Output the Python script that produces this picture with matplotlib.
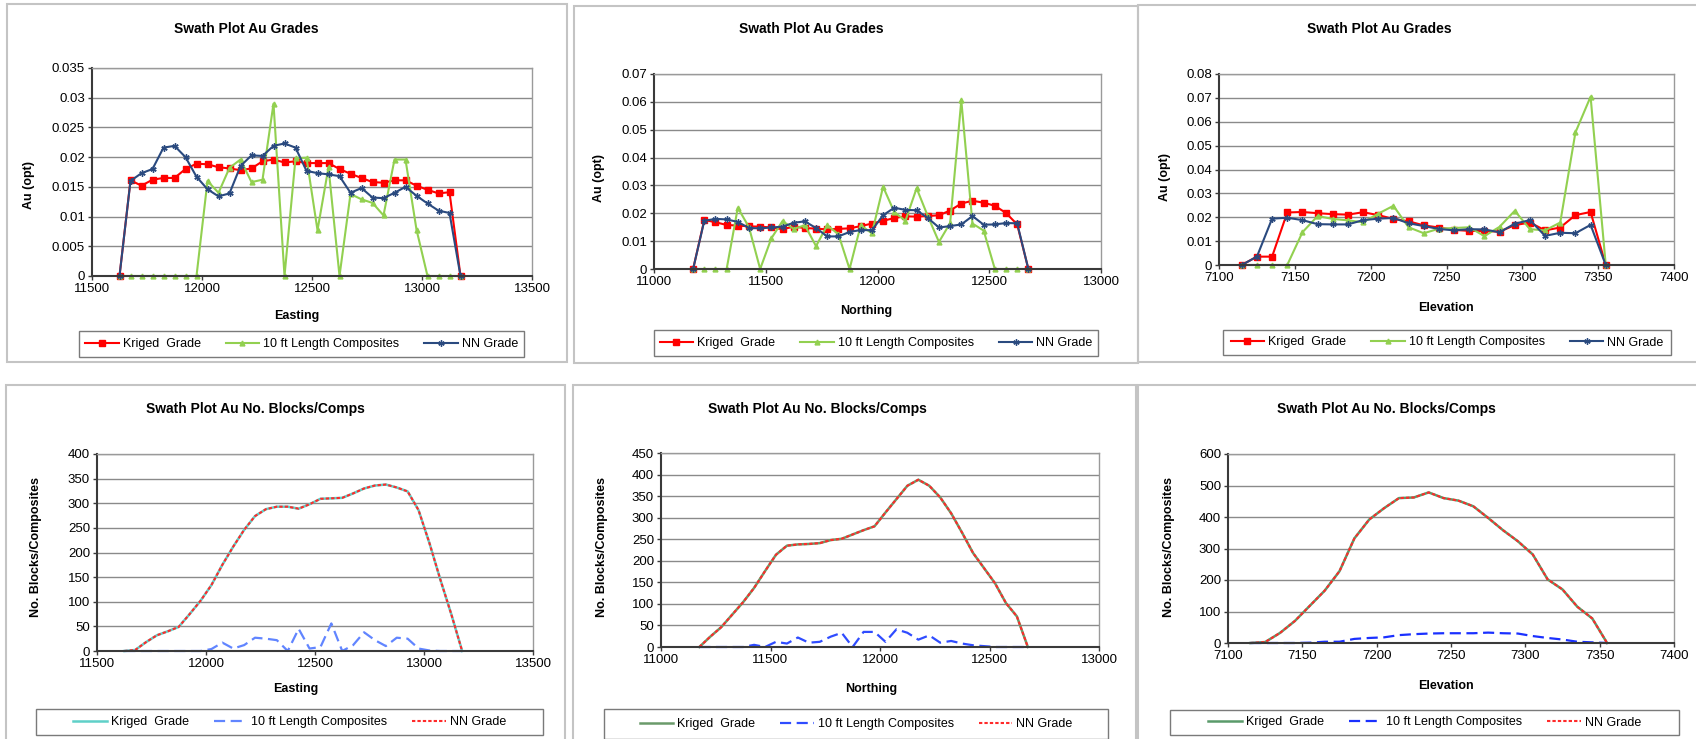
import matplotlib
matplotlib.use("Agg")
import matplotlib.pyplot as plt
from matplotlib.patches import Rectangle
from matplotlib.ticker import FuncFormatter, MultipleLocator

plt.rcParams['font.family'] = ['Liberation Sans', 'DejaVu Sans']

# ---------------- data ----------------
easting = [11625, 11675, 11725, 11775, 11825, 11875, 11925, 11975, 12025, 12075, 12125,
           12175, 12225, 12275, 12325, 12375, 12425, 12475, 12525, 12575, 12625, 12675,
           12725, 12775, 12825, 12875, 12925, 12975, 13025, 13075, 13125, 13175]
northing = [11175, 11225, 11275, 11325, 11375, 11425, 11475, 11525, 11575, 11625, 11675,
            11725, 11775, 11825, 11875, 11925, 11975, 12025, 12075, 12125, 12175, 12225,
            12275, 12325, 12375, 12425, 12475, 12525, 12575, 12625, 12675]
elevation = [7115, 7125, 7135, 7145, 7155, 7165, 7175, 7185, 7195, 7205, 7215, 7225, 7235,
             7245, 7255, 7265, 7275, 7285, 7295, 7305, 7315, 7325, 7335, 7345, 7355]

# grades by Easting
krig_e = [0, 0.0161, 0.0152, 0.0162, 0.0165, 0.0165, 0.0180, 0.0189, 0.0188, 0.0183, 0.0181,
          0.0178, 0.0181, 0.0193, 0.0196, 0.0191, 0.0193, 0.0190, 0.0190, 0.0190, 0.0180, 0.0172,
          0.0165, 0.0158, 0.0157, 0.0161, 0.0161, 0.0152, 0.0145, 0.0139, 0.0141, 0]
comp_e = [0, 0, 0, 0, 0, 0, 0, 0, 0.0160, 0.0140, 0.0182, 0.0196, 0.0158, 0.0162, 0.0290, 0,
          0.0198, 0.0199, 0.0077, 0.0183, 0, 0.0138, 0.0129, 0.0123, 0.0102, 0.0196, 0.0196,
          0.0078, 0, 0, 0, 0]
nn_e = [0, 0.0160, 0.0173, 0.0180, 0.0216, 0.0219, 0.0200, 0.0167, 0.0146, 0.0134, 0.0139,
        0.0185, 0.0203, 0.0202, 0.0219, 0.0223, 0.0216, 0.0177, 0.0173, 0.0171, 0.0168, 0.0140,
        0.0148, 0.0132, 0.0131, 0.0140, 0.0150, 0.0135, 0.0122, 0.0110, 0.0106, 0]

# grades by Northing
krig_n = [0, 0.0176, 0.0168, 0.0158, 0.0156, 0.0153, 0.0152, 0.0149, 0.0143, 0.0152, 0.0147,
          0.0145, 0.0142, 0.0144, 0.0146, 0.0154, 0.0163, 0.0173, 0.0183, 0.0189, 0.0188, 0.0190,
          0.0193, 0.0210, 0.0235, 0.0245, 0.0238, 0.0227, 0.0201, 0.0160, 0]
comp_n = [0, 0, 0, 0, 0.0220, 0.0150, 0, 0.0110, 0.0172, 0.0144, 0.0157, 0.0082, 0.0157, 0.0125,
          0, 0.0157, 0.0128, 0.0295, 0.0205, 0.0173, 0.0290, 0.0190, 0.0097, 0.0165, 0.0605,
          0.0163, 0.0138, 0, 0, 0, 0]
nn_n = [0, 0.0173, 0.0180, 0.0178, 0.0169, 0.0147, 0.0146, 0.0149, 0.0152, 0.0166, 0.0171,
        0.0147, 0.0117, 0.0117, 0.0133, 0.0140, 0.0139, 0.0193, 0.0220, 0.0212, 0.0211, 0.0183,
        0.0149, 0.0154, 0.0160, 0.0190, 0.0159, 0.0160, 0.0165, 0.0164, 0]

# grades by Elevation
krig_z = [0, 0.0035, 0.0035, 0.0220, 0.0222, 0.0217, 0.0213, 0.0211, 0.0221, 0.0209, 0.0193,
          0.0183, 0.0166, 0.0157, 0.0147, 0.0143, 0.0142, 0.0140, 0.0167, 0.0178, 0.0145,
          0.0157, 0.0209, 0.0222, 0]
comp_z = [0, 0, 0, 0, 0.0137, 0.0205, 0.0193, 0.0187, 0.0179, 0.0215, 0.0248, 0.0158, 0.0133,
          0.0152, 0.0155, 0.0158, 0.0121, 0.0160, 0.0227, 0.0150, 0.0145, 0.0178, 0.0555,
          0.0705, 0]
nn_z = [0, 0.0035, 0.0194, 0.0198, 0.0188, 0.0171, 0.0170, 0.0170, 0.0188, 0.0194, 0.0197,
        0.0175, 0.0163, 0.0151, 0.0145, 0.0150, 0.0149, 0.0137, 0.0173, 0.0188, 0.0122,
        0.0135, 0.0133, 0.0168, 0]

# counts (kriged blocks = NN blocks)
nblk_e = [0, 2, 18, 32, 40, 49, 75, 102, 134, 175, 212, 246, 274, 288, 293, 293, 289, 298,
          309, 310, 311, 320, 330, 336, 338, 332, 324, 286, 219, 145, 75, 0]
ncomp_e = [0, 0, 0, 0, 0, 0, 0, 0, 4, 17, 5, 12, 27, 25, 22, 0, 45, 5, 8, 56, 0, 12, 38, 22,
           10, 27, 25, 5, 1, 0, 0, 0]
nblk_n = [0, 24, 46, 75, 104, 137, 176, 214, 235, 238, 239, 241, 248, 251, 261, 271, 280, 312,
          343, 374, 388, 374, 347, 310, 265, 218, 183, 148, 102, 71, 0]
ncomp_n = [0, 0, 0, 0, 0, 5, 0, 12, 8, 22, 10, 12, 24, 33, 0, 35, 35, 12, 41, 33, 17, 27, 10,
           14, 8, 4, 2, 0, 0, 0, 0]
nblk_z = [0, 3, 32, 70, 118, 166, 228, 332, 392, 428, 460, 462, 478, 460, 452, 434, 397, 358,
          323, 281, 202, 170, 115, 78, 0]
ncomp_z = [0, 0, 0, 0, 1, 4, 4, 13, 16, 18, 25, 28, 30, 31, 31, 31, 33, 31, 30, 22, 16, 11,
           4, 2, 0]

labels = ["Kriged  Grade", "10 ft Length Composites", "NN Grade"]

# ---------------- figure ----------------
W, H = 1696, 739
fig = plt.figure(figsize=(W / 100, H / 100), dpi=100)


def fx(x):
    return x / W


def fy(y):
    return 1 - y / H


def add_axes(l, r, t, b):
    return fig.add_axes([fx(l), fy(b), fx(r - l), (b - t) / H])


def frame(x0, y0, x1, y1):
    fig.add_artist(Rectangle((fx(x0), fy(y1)), fx(x1 - x0), (y1 - y0) / H,
                             transform=fig.transFigure, fill=False,
                             ec='#c4c4c4', lw=1.5))


def style(ax, xlim, xstep, ylim, ystep, fmt):
    ax.set_xlim(*xlim)
    ax.set_ylim(*ylim)
    ax.xaxis.set_major_locator(MultipleLocator(xstep))
    ax.yaxis.set_major_locator(MultipleLocator(ystep))
    ax.yaxis.set_major_formatter(FuncFormatter(fmt))
    ax.yaxis.grid(True, color='#8a8a8a', lw=1)
    ax.set_axisbelow(True)
    for s in ('top', 'right'):
        ax.spines[s].set_color('#9a9a9a')
        ax.spines[s].set_linewidth(1)
    for s in ('left', 'bottom'):
        ax.spines[s].set_color('#3a3a3a')
        ax.spines[s].set_linewidth(1.5)
    ax.tick_params(direction='out', length=3, width=1, color='#3a3a3a',
                   labelsize=9.5, pad=2)


def texts(title, tx, ty, ylab, ylx, yly, xlab, xlx, xly):
    fig.text(fx(tx), fy(ty), title, ha='center', va='center', fontsize=10,
             fontweight='bold')
    fig.text(fx(ylx), fy(yly), ylab, ha='center', va='center', rotation=90,
             fontsize=9, fontweight='bold')
    fig.text(fx(xlx), fy(xly), xlab, ha='center', va='center', fontsize=9,
             fontweight='bold')


def legend_box(handles, x0, y0, x1, y1):
    fig.add_artist(Rectangle((fx(x0), fy(y1)), fx(x1 - x0), (y1 - y0) / H,
                             transform=fig.transFigure, fill=False,
                             ec='#7a7a7a', lw=1))
    fig.legend(handles, labels, loc='center',
               bbox_to_anchor=(fx((x0 + x1) / 2), fy((y0 + y1) / 2)),
               ncol=3, frameon=False, fontsize=9, handlelength=2.7,
               handletextpad=0.3, columnspacing=2.0, borderpad=0)


grade_fmt = lambda v, p: f"{round(v, 4):g}"
count_fmt = lambda v, p: f"{v:.0f}"

RED = '#ff0000'
GREEN = '#92d050'
NAVY = '#2a4a7f'
star = (6, 2, 0)


def grade_panel(box, axbox, x, krig, comp, nn, xlim, xstep, ylim, ystep,
                title_pos, ylab_pos, xlab, xlab_pos, leg):
    frame(*box)
    ax = add_axes(*axbox)
    style(ax, xlim, xstep, ylim, ystep, grade_fmt)
    h1, = ax.plot(x, krig, color=RED, lw=1.5, marker='s', ms=4.5, mec=RED, mfc=RED)
    h2, = ax.plot(x, comp, color=GREEN, lw=1.5, marker='^', ms=3.5, mec=GREEN, mfc=GREEN)
    h3, = ax.plot(x, nn, color=NAVY, lw=1.5, marker=star, ms=4.5, mec=NAVY, mew=1)
    for h in (h1, h2, h3):
        h.set_clip_on(False)
    texts("Swath Plot Au Grades", *title_pos, "Au (opt)", *ylab_pos, xlab, *xlab_pos)
    legend_box([h1, h2, h3], *leg)


def count_panel(box, axbox, x, blk, comp, kcol, ccol, xlim, xstep, ylim, ystep,
                title_pos, ylab_pos, xlab, xlab_pos, leg):
    frame(*box)
    ax = add_axes(*axbox)
    style(ax, xlim, xstep, ylim, ystep, count_fmt)
    h1, = ax.plot(x, blk, color=kcol, lw=1.8)
    h2, = ax.plot(x, comp, color=ccol, lw=1.6, ls=(0, (5, 2.5)))
    h3, = ax.plot(x, blk, color='#ff2a2a', lw=1.5, ls=(0, (1.6, 1.0)))
    for h in (h1, h2, h3):
        h.set_clip_on(False)
    texts("Swath Plot Au No. Blocks/Comps", *title_pos, "No. Blocks/Composites",
          *ylab_pos, xlab, *xlab_pos)
    legend_box([h1, h2, h3], *leg)


# top row
grade_panel((7, 4, 567, 362), (92, 532, 68, 276), easting, krig_e, comp_e, nn_e,
            (11500, 13500), 500, (0, 0.035), 0.005,
            (246, 29), (29, 185), "Easting", (297, 316), (79, 331, 524, 357))
grade_panel((574, 6, 1138, 363), (654, 1101, 74, 269), northing, krig_n, comp_n, nn_n,
            (11000, 13000), 500, (0, 0.07), 0.01,
            (811, 29), (599, 178), "Northing", (866, 311), (654, 330, 1098, 356))
grade_panel((1138, 5, 1705, 362), (1219, 1674, 74, 265), elevation, krig_z, comp_z, nn_z,
            (7100, 7400), 50, (0, 0.08), 0.01,
            (1379, 29), (1165, 177), "Elevation", (1446, 308), (1223, 330, 1671, 355))

# bottom row
count_panel((6, 385, 565, 745), (97, 533, 454, 651), easting, nblk_e, ncomp_e,
            '#5fd0c8', '#6185ff', (11500, 13500), 500, (0, 400), 50,
            (255, 409), (36, 547), "Easting", (296, 689), (36, 709, 543, 735))
count_panel((573, 385, 1136, 745), (661, 1099, 453, 647), northing, nblk_n, ncomp_n,
            '#6a9a6a', '#2f4cff', (11000, 13000), 500, (0, 450), 50,
            (817, 409), (602, 547), "Northing", (871, 689), (604, 709, 1108, 739))
count_panel((1138, 385, 1705, 745), (1228, 1674, 454, 643), elevation, nblk_z, ncomp_z,
            '#5a9a6a', '#1a30ff', (7100, 7400), 50, (0, 600), 100,
            (1386, 409), (1169, 547), "Elevation", (1446, 686), (1170, 710, 1679, 735))

fig.savefig("out.png", dpi=100, facecolor='white')
